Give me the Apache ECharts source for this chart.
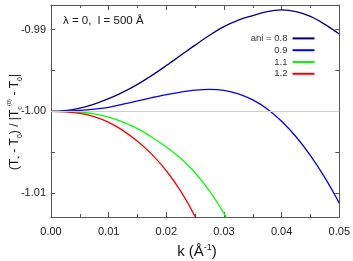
<!DOCTYPE html>
<html>
<head>
<meta charset="utf-8">
<script src="https://cdn.jsdelivr.net/npm/echarts@6/dist/echarts.min.js"></script>
<style>html,body{margin:0;padding:0;background:#fff}#c{width:353px;height:261px}</style>
</head>
<body>
<div id="c"></div>
<script>
// ---- data ----
const seriesNames = ['ani = 0.8', '0.9', '1.1', '1.2'];
const seriesColors = ['#000080', '#0000ff', '#00ff00', '#ff0000'];
const kAni08 = [0, 0.0025, 0.005, 0.0075, 0.01, 0.0125, 0.015, 0.0175, 0.02, 0.0225, 0.025, 0.0275, 0.03, 0.0325, 0.035, 0.0375, 0.04, 0.0425, 0.045, 0.0475, 0.05];
const vAni08 = [-1.0000, -0.9999, -0.9996, -0.9991, -0.99845, -0.99765, -0.9967, -0.9956, -0.9944, -0.99315, -0.9919, -0.9907, -0.98965, -0.98885, -0.9883, -0.9878, -0.9876, -0.9878, -0.9884, -0.98937, -0.99055];
const kAni09 = [0, 0.0025, 0.005, 0.0075, 0.01, 0.0125, 0.015, 0.0175, 0.02, 0.0225, 0.025, 0.0275, 0.03, 0.0325, 0.035, 0.0375, 0.04, 0.0425, 0.045, 0.0475, 0.05];
const vAni09 = [-1.0000, -0.99997, -0.99988, -0.99972, -0.9995, -0.99912, -0.99872, -0.99832, -0.99795, -0.99764, -0.9974, -0.9973, -0.99742, -0.99785, -0.9986, -0.9997, -1.0012, -1.0031, -1.0054, -1.0081, -1.0112];
const kAni11 = [0, 0.0025, 0.005, 0.0075, 0.01, 0.0125, 0.015, 0.0175, 0.02, 0.0225, 0.025, 0.0275, 0.03, 0.0325];
const vAni11 = [-1.0000, -1.00002, -1.0001, -1.0003, -1.0007, -1.0013, -1.0021, -1.00315, -1.00435, -1.00575, -1.0075, -1.00975, -1.01245, -1.0155];
const kAni12 = [0, 0.0025, 0.005, 0.0075, 0.01, 0.0125, 0.015, 0.0175, 0.02, 0.0225, 0.025, 0.0275];
const vAni12 = [-1.0000, -1.00005, -1.00025, -1.00065, -1.00135, -1.00235, -1.00365, -1.00525, -1.00725, -1.00975, -1.01285, -1.01665];
const xTickLabels = [0, 0.01, 0.02, 0.03, 0.04, 0.05];
const yTickLabels = [-1.01, -1.00, -0.99];
const yTicks = [-1.01, -1.005, -1.00, -0.995, -0.99];
const refLine = -1.00;

const zip = (ks, vs) => ks.map((k, i) => [k, vs[i]]);
const allK = [kAni08, kAni09, kAni11, kAni12];
const allV = [vAni08, vAni09, vAni11, vAni12];

const chart = echarts.init(document.getElementById('c'), null, {renderer: 'canvas'});
const FONT = 'Liberation Sans';
const axisCol = '#555';

const xBase = {
  type: 'value', min: 0, max: 0.05, interval: 0.01,
  axisLine: {show: true, onZero: false, lineStyle: {color: axisCol, width: 1}},
  axisTick: {show: true, inside: true, length: 5, lineStyle: {color: axisCol}},
  minorTick: {show: true, splitNumber: 2, length: 3, lineStyle: {color: axisCol}},
  splitLine: {show: false}
};
const yBase = {
  type: 'value', min: -1.0129, max: -0.987, scale: true,
  axisLine: {show: true, onZero: false, lineStyle: {color: axisCol, width: 1}},
  axisTick: {show: true, inside: true, length: 4, lineStyle: {color: axisCol}, customValues: yTicks},
  splitLine: {show: false}
};

const series = seriesNames.map((n, i) => ({
  name: n, type: 'line', data: zip(allK[i], allV[i]),
  smooth: 0.35, symbol: 'none', clip: true,
  lineStyle: {color: seriesColors[i], width: 1.3},
  itemStyle: {color: seriesColors[i]},
  z: 3
}));
series.unshift({
  name: 'ref', type: 'line', data: [], z: 1,
  markLine: {silent: true, symbol: ['none', 'none'], animation: false,
    label: {show: false}, lineStyle: {color: '#cfcfcf', width: 1, type: 'solid'},
    data: [{yAxis: refLine}]}
});

chart.setOption({
  animation: false,
  backgroundColor: '#fff',
  grid: {left: 51, right: 12, top: 5, bottom: 44, containLabel: false},
  xAxis: [
    Object.assign({}, xBase, {position: 'bottom',
      axisLabel: {show: true, fontFamily: FONT, fontSize: 11, color: '#222', margin: 9,
        customValues: xTickLabels, formatter: v => v.toFixed(2)}}),
    Object.assign({}, xBase, {position: 'top', axisLabel: {show: false}})
  ],
  yAxis: [
    Object.assign({}, yBase, {position: 'left',
      axisLabel: {show: true, fontFamily: FONT, fontSize: 11, color: '#222', margin: 5,
        customValues: yTickLabels, formatter: v => v.toFixed(2)}}),
    Object.assign({}, yBase, {position: 'right', axisLabel: {show: false}})
  ],
  legend: {
    data: seriesNames, orient: 'vertical', align: 'right',
    right: 33.5, top: 27.5, itemGap: 0,
    icon: 'rect', itemWidth: 22, itemHeight: 2,
    textStyle: {fontFamily: FONT, fontSize: 9.5, color: '#333', lineHeight: 11.8},
    selectedMode: false
  },
  graphic: [
    {type: 'text', x: 63, y: 21, style: {text: 'λ = 0,  l = 500 Å', font: '11.5px ' + FONT, fill: '#111', verticalAlign: 'middle', align: 'left'}},
    {type: 'text', x: 197, y: 252, style: {
      rich: {m: {fontFamily: FONT, fontSize: 15, fill: '#111'}, sp: {fontFamily: FONT, fontSize: 9, fill: '#111', verticalAlign: 'top', lineHeight: 9}},
      text: '{m|k (Å}{sp|-1}{m|)}', align: 'center', verticalAlign: 'middle', lineHeight: 18}},
    {type: 'text', x: 15, y: 122, rotation: Math.PI / 2, style: {
      rich: {
        m: {fontFamily: FONT, fontSize: 12, fill: '#111'},
        sb: {fontFamily: FONT, fontSize: 7, fill: '#111', verticalAlign: 'bottom', lineHeight: 7},
        sp: {fontFamily: FONT, fontSize: 6, fill: '#111', verticalAlign: 'top', lineHeight: 6}
      },
      text: '{m|(T}{sb|*}{m| - T}{sb|0}{m|) / |T}{sb|c}{sp|(0)}{m| - T}{sb|0}{m||}',
      align: 'center', verticalAlign: 'middle', lineHeight: 17}}
  ],
  series: series
});
</script>
</body>
</html>
